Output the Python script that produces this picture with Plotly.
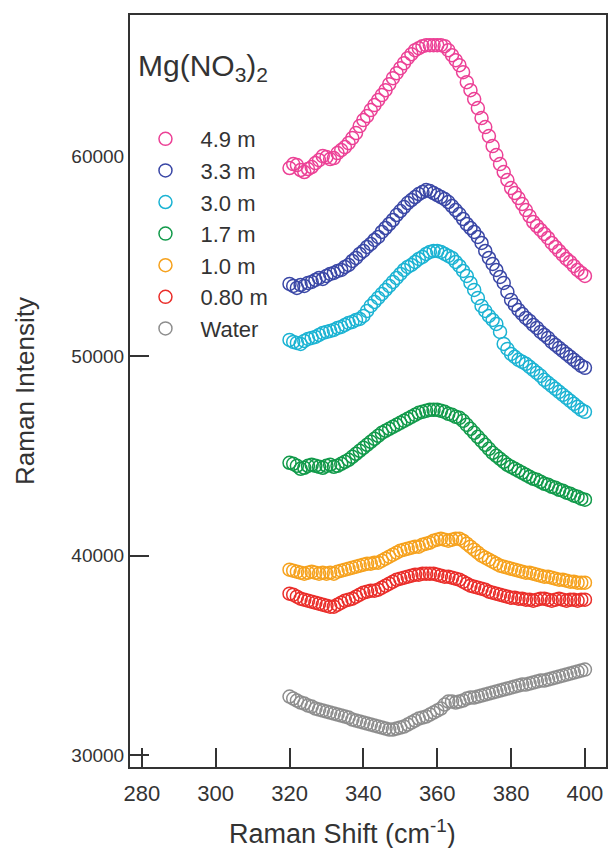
import plotly.graph_objects as go

# Raman shift (cm^-1) sampling used by every series
shift = list(range(320, 401))

y_49 = [59400, 59600, 59550, 59300, 59200, 59350, 59450, 59650, 59800, 60000,
        59950, 59850, 59900, 60150, 60300, 60450, 60650, 60900, 61150, 61500,
        61800, 62000, 62300, 62550, 62800, 63050, 63300, 63600, 63900, 64150,
        64400, 64650, 64900, 65100, 65300, 65400, 65500, 65550, 65550, 65550,
        65550, 65550, 65500, 65300, 65050, 64800, 64550, 64200, 63700, 63300,
        62850, 62400, 61900, 61450, 61000, 60500, 60050, 59600, 59200, 58800,
        58400, 58150, 57900, 57600, 57300, 57000, 56700, 56500, 56300, 56100,
        55900, 55650, 55450, 55250, 55050, 54850, 54700, 54500, 54300, 54150,
        54000]

y_33 = [53600, 53500, 53400, 53550, 53500, 53650, 53700, 53800, 53900, 53850,
        54000, 54100, 54150, 54250, 54300, 54450, 54550, 54750, 54900, 55100,
        55250, 55450, 55600, 55800, 55950, 56200, 56400, 56600, 56800, 57050,
        57250, 57450, 57650, 57800, 57950, 58100, 58200, 58300, 58250, 58150,
        58050, 57950, 57850, 57700, 57500, 57300, 57100, 56850, 56600, 56400,
        56200, 55950, 55650, 55250, 54900, 54600, 54300, 53950, 53650, 53200,
        52800, 52550, 52300, 52100, 51900, 51750, 51550, 51400, 51200, 51050,
        50900, 50700, 50550, 50400, 50250, 50100, 49950, 49800, 49650, 49500,
        49400]

y_30 = [50800, 50700, 50650, 50600, 50750, 50850, 50900, 50950, 51050, 51150,
        51200, 51250, 51300, 51400, 51450, 51550, 51650, 51700, 51800, 51850,
        52000, 52250, 52500, 52700, 52900, 53100, 53300, 53500, 53700, 53900,
        54100, 54300, 54450, 54550, 54700, 54850, 54950, 55100, 55200, 55250,
        55250, 55200, 55100, 55000, 54900, 54700, 54500, 54250, 54000, 53650,
        53300, 52900, 52500, 52250, 52000, 51800, 51600, 51200, 50600, 50350,
        50100, 49950, 49800, 49700, 49600, 49450, 49300, 49150, 49000, 48800,
        48650, 48500, 48350, 48200, 48050, 47900, 47750, 47600, 47450, 47300,
        47200]

y_17 = [44650, 44600, 44500, 44350, 44400, 44500, 44550, 44500, 44450, 44400,
        44500, 44550, 44450, 44500, 44600, 44700, 44800, 44950, 45100, 45250,
        45400, 45550, 45700, 45850, 46000, 46150, 46250, 46350, 46450, 46550,
        46650, 46750, 46850, 46950, 47050, 47150, 47200, 47250, 47300, 47300,
        47300, 47250, 47200, 47100, 47050, 46950, 46900, 46750, 46550, 46350,
        46150, 45950, 45750, 45550, 45350, 45150, 45000, 44850, 44700, 44550,
        44450, 44350, 44250, 44150, 44050, 43950, 43850, 43800, 43700, 43600,
        43550, 43450, 43400, 43300, 43250, 43150, 43100, 43000, 42950, 42850,
        42800]

y_10 = [39300, 39250, 39200, 39150, 39100, 39150, 39200, 39150, 39100, 39150,
        39100, 39150, 39100, 39200, 39250, 39300, 39350, 39400, 39450, 39500,
        39550, 39600, 39600, 39650, 39650, 39750, 39850, 39950, 40050, 40150,
        40250, 40300, 40350, 40400, 40450, 40450, 40550, 40600, 40650, 40750,
        40800, 40850, 40800, 40750, 40800, 40850, 40850, 40750, 40600, 40450,
        40300, 40150, 40000, 39900, 39800, 39700, 39600, 39500, 39450, 39400,
        39350, 39300, 39250, 39200, 39150, 39150, 39100, 39050, 39000, 38950,
        38950, 38900, 38850, 38800, 38800, 38750, 38700, 38700, 38650, 38650,
        38650]

y_08 = [38100, 38050, 37950, 37850, 37800, 37750, 37700, 37650, 37600, 37550,
        37500, 37450, 37450, 37550, 37650, 37750, 37800, 37850, 37950, 38050,
        38150, 38200, 38250, 38250, 38300, 38400, 38500, 38600, 38700, 38800,
        38850, 38900, 38950, 39000, 39050, 39050, 39100, 39100, 39100, 39100,
        39050, 39000, 38950, 38950, 38900, 38850, 38800, 38700, 38600, 38500,
        38450, 38400, 38350, 38300, 38200, 38150, 38100, 38050, 38000, 37950,
        37900, 37900, 37850, 37850, 37800, 37800, 37750, 37800, 37850, 37850,
        37800, 37750, 37800, 37850, 37800, 37750, 37800, 37800, 37750, 37800,
        37800]

y_water = [32950, 32850, 32750, 32650, 32600, 32500, 32450, 32350, 32300, 32250,
           32200, 32150, 32100, 32050, 32000, 31950, 31900, 31800, 31750, 31700,
           31650, 31600, 31550, 31500, 31450, 31400, 31350, 31300, 31300, 31350,
           31400, 31450, 31550, 31650, 31750, 31850, 31900, 31950, 32050, 32150,
           32250, 32350, 32550, 32700, 32700, 32650, 32700, 32750, 32850, 32900,
           32900, 32950, 33000, 33050, 33100, 33150, 33200, 33250, 33300, 33350,
           33400, 33450, 33500, 33550, 33550, 33600, 33650, 33700, 33750, 33750,
           33800, 33850, 33900, 33950, 34000, 34050, 34100, 34150, 34200, 34250,
           34300]

labels = ["4.9 m", "3.3 m", "3.0 m", "1.7 m", "1.0 m", "0.80 m", "Water"]
series = [y_49, y_33, y_30, y_17, y_10, y_08, y_water]
colors = ["#EC4196", "#3A47A6", "#1BB3D3", "#119A4A", "#F6A21E", "#EA2E2A", "#8E8E8E"]

x_ticks = [280, 300, 320, 340, 360, 380, 400]
y_ticks = [30000, 40000, 50000, 60000]

FONT = "Liberation Sans, Arial, sans-serif"
TXT = "#333333"

fig = go.Figure()
for lab, ys, col in zip(labels, series, colors):
    fig.add_trace(go.Scatter(
        x=shift, y=ys, mode="markers", name=lab,
        marker=dict(symbol="circle-open", size=13, color=col,
                    line=dict(width=1.5, color=col)),
    ))

fig.add_annotation(
    text="Mg(NO<sub>3</sub>)<sub>2</sub>", xref="paper", yref="paper",
    x=0.012, y=0.93, xanchor="left", yanchor="middle", showarrow=False,
    font=dict(family=FONT, size=30, color=TXT),
)

# x-axis title (sits slightly left of the plot centre in the original)
fig.add_annotation(
    text="Raman Shift (cm<sup>-1</sup>)", xref="paper", yref="paper",
    x=0.447, y=-0.087, xanchor="center", yanchor="middle", showarrow=False,
    font=dict(family=FONT, size=27, color=TXT),
)

fig.update_layout(
    width=609, height=848,
    margin=dict(l=130, r=1, t=15, b=81),
    paper_bgcolor="white", plot_bgcolor="white",
    font=dict(family=FONT, size=19, color=TXT),
    showlegend=True,
    legend=dict(
        x=0.001, y=0.863, xanchor="left", yanchor="top",
        bgcolor="white", borderwidth=0,
        font=dict(family=FONT, size=22, color=TXT),
        tracegroupgap=0, itemwidth=60,
    ),
    xaxis=dict(
        range=[276.8, 405.7], tickvals=x_ticks, ticktext=[str(v) for v in x_ticks],
        ticks="inside", ticklen=19, tickwidth=1.5, tickcolor=TXT,
        showline=True, linewidth=2, linecolor=TXT, mirror=True,
        showgrid=False, zeroline=False, ticklabelstandoff=6,
        tickfont=dict(family=FONT, size=22, color=TXT),
    ),
    yaxis=dict(
        range=[29424, 67060], tickvals=y_ticks, ticktext=[str(v) for v in y_ticks],
        ticks="inside", ticklen=19, tickwidth=1.5, tickcolor=TXT,
        showline=True, linewidth=2, linecolor=TXT, mirror=True,
        showgrid=False, zeroline=False,
        tickfont=dict(family=FONT, size=19, color=TXT),
        title=dict(text="Raman Intensity",
                   font=dict(family=FONT, size=26, color=TXT), standoff=29),
    ),
)

fig.write_html("out.html")
